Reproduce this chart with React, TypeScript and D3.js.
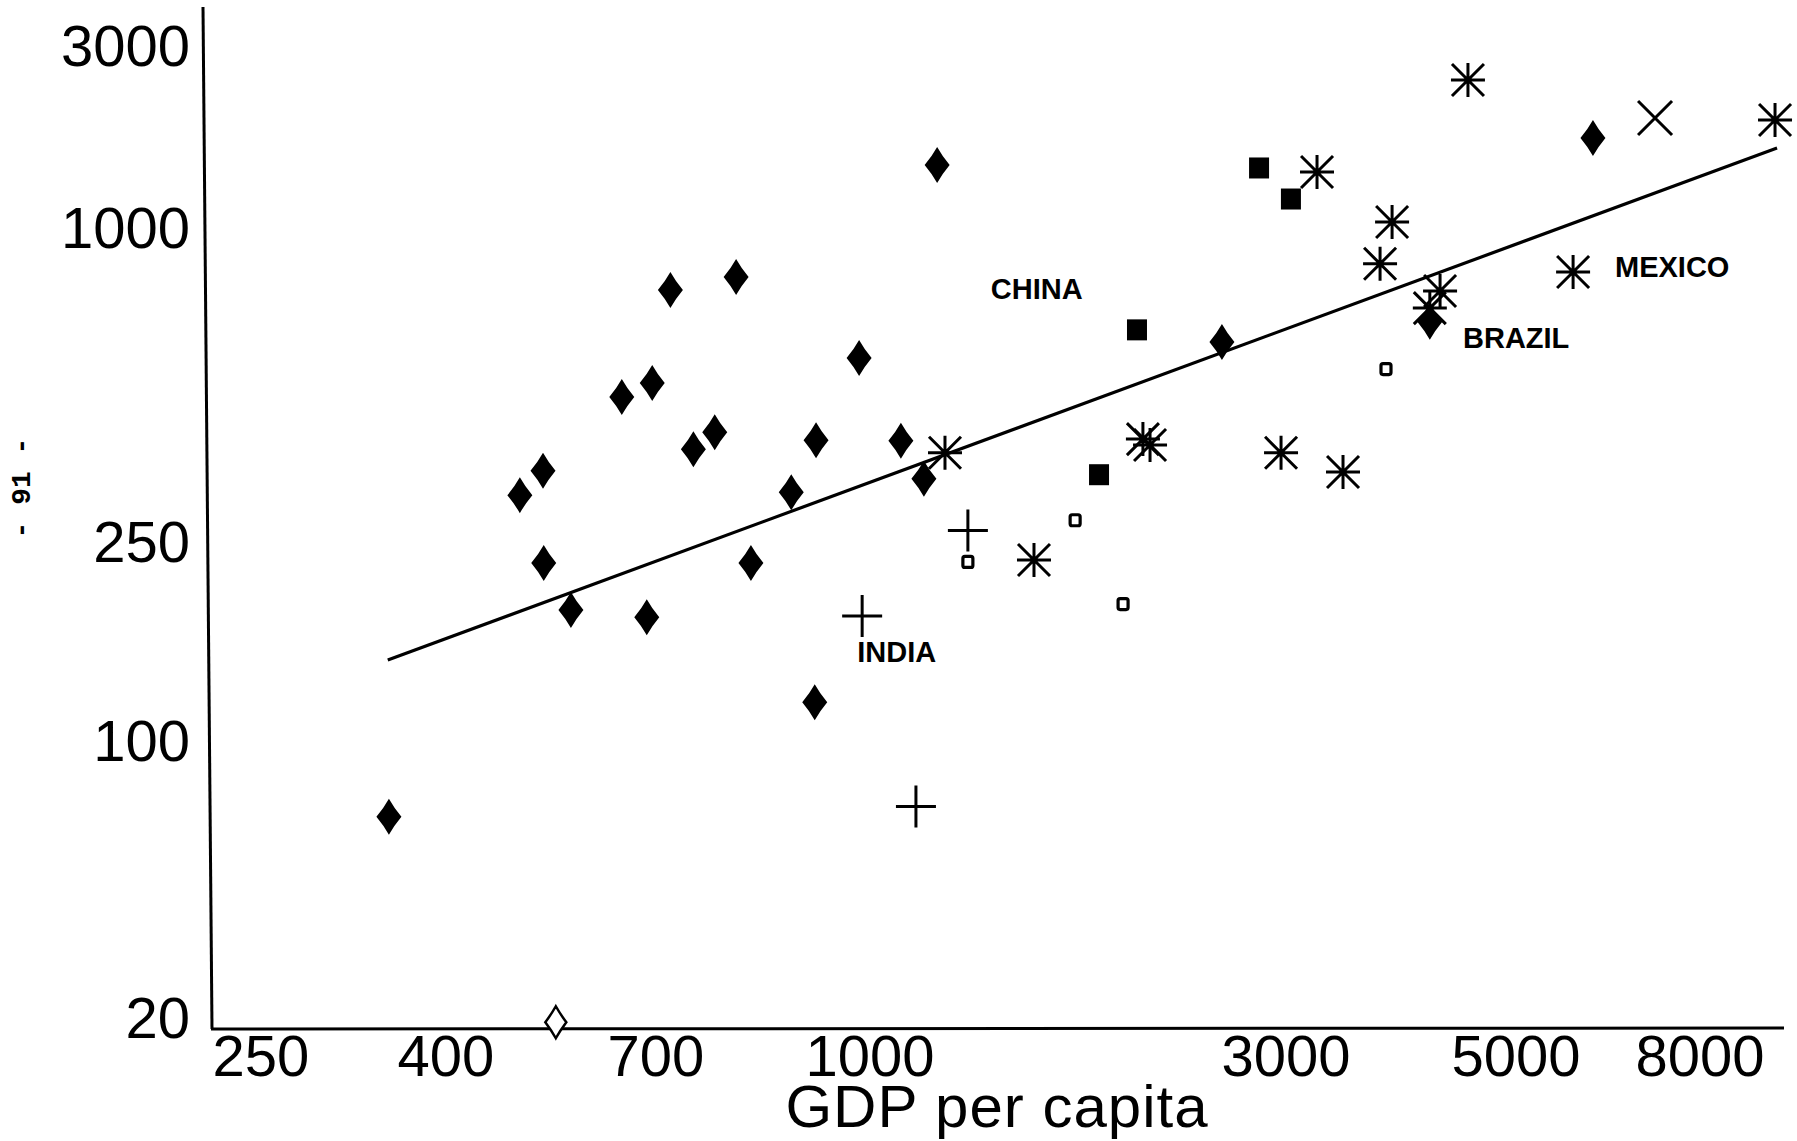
import * as d3 from 'd3';

const W = 1797;
const H = 1141;

// axis ticks as printed
const xTickValues = [250, 400, 700, 1000, 3000, 5000, 8000];
const yTickValues = [20, 100, 250, 1000, 3000];

// points: [GDP per capita, y value]
const diamonds: [number, number][] = [
  [1194, 1454], [717, 757], [800, 802], [639, 472], [693, 502], [982, 561],
  [745, 375], [772, 404], [914, 390], [1085, 389], [487, 306], [518, 341],
  [877, 310], [1153, 329], [519, 226], [558, 182], [683, 176], [820, 226],
  [912, 119], [346, 64], [2533, 602], [4129, 658], [6086, 1712],
];
const openDiamonds: [number, number][] = [[536, 19.4]];
const filledSquares: [number, number][] = [[2794, 1428], [3033, 1184], [2024, 635], [1831, 335]];
const smallSquares: [number, number][] = [[1295, 227], [1719, 274], [1951, 187], [3746, 534]];
const asterisks: [number, number][] = [
  [4494, 2428], [9690, 1908], [3214, 1394], [3797, 1031], [3697, 850], [4224, 754],
  [4129, 699], [5785, 820], [1219, 369], [2056, 392], [2095, 382], [2961, 369],
  [3405, 339], [1542, 229],
];
const crosses: [number, number][] = [[7132, 1931]];
const pluses: [number, number][] = [[1295, 262], [987, 177], [1129, 68]];

// fitted line end points
const fitLine: [number, number][] = [[345, 144.5], [9740, 1611]];

const countryNames = ['CHINA', 'INDIA', 'BRAZIL', 'MEXICO'];
const countryGdp = [1376, 979, 4445, 6439];
const countryVal = [728, 143, 586, 802];

const asteriskPath = 'M0,-17V17M-17,0H17M-16,-16L16,16M-16,16L16,-16';
const crossPath = 'M-17,-17L17,17M-17,17L17,-17';
const plusPath = 'M-20,0H20M0,-21V21';
// card-suit style diamond, slightly bowed sides
const diamondPath = 'M0,-18Q5,-9 12.5,0Q5,9 0,18Q-5,9 -12.5,0Q-5,-9 0,-18Z';
const openDiamondPath = 'M0,-16Q4.5,-8 10.5,0Q4.5,8 0,16Q-4.5,8 -10.5,0Q-4.5,-8 0,-16Z';

export default function App() {
  const x = d3.scaleLog().domain(xTickValues).range([261, 446, 656, 870, 1286, 1516, 1700]);
  const y = d3.scaleLog().domain(yTickValues).range([1017, 740, 541, 227, 45]);

  const font = '"Liberation Sans", Arial, sans-serif';
  const line = d3.line<[number, number]>().x(d => x(d[0])).y(d => y(d[1]));
  const tr = (d: [number, number]) => `translate(${x(d[0])},${y(d[1])})`;

  return (
    <svg
      width={W}
      height={H}
      style={{ position: 'absolute', left: 0, top: 0, background: '#fff' }}
    >
      {/* axes */}
      <line x1={203} y1={7} x2={212} y2={1029} stroke="#000" strokeWidth={3} />
      <line x1={211} y1={1029} x2={1784} y2={1028} stroke="#000" strokeWidth={3} />

      {yTickValues.map(v => (
        <text key={'y' + v} x={190} y={y(v)} dy="0.36em" textAnchor="end"
          fontFamily={font} fontSize={58} fill="#000">{v}</text>
      ))}
      {xTickValues.map(v => (
        <text key={'x' + v} x={x(v)} y={1076} textAnchor="middle"
          fontFamily={font} fontSize={58} fill="#000">{v}</text>
      ))}
      <text x={997} y={1127} textAnchor="middle" fontFamily={font} fontSize={60}
        letterSpacing={1} fill="#000">GDP per capita</text>

      <text transform="translate(30,488) rotate(-90)" textAnchor="middle"
        fontFamily='"Liberation Mono", monospace' fontSize={28} fontWeight="bold"
        fill="#000">- 91 -</text>

      {/* regression line */}
      <path d={line(fitLine) ?? ''} fill="none" stroke="#000" strokeWidth={3.2} />

      {diamonds.map((d, i) => (
        <path key={'d' + i} d={diamondPath} transform={tr(d)} fill="#000" />
      ))}
      {openDiamonds.map((d, i) => (
        <path key={'od' + i} d={openDiamondPath} transform={tr(d)} fill="#fff"
          stroke="#000" strokeWidth={2.5} />
      ))}
      {filledSquares.map((d, i) => (
        <rect key={'fs' + i} x={x(d[0]) - 10} y={y(d[1]) - 10.5} width={20} height={21} fill="#000" />
      ))}
      {smallSquares.map((d, i) => (
        <rect key={'ss' + i} x={x(d[0]) - 5} y={y(d[1]) - 5.5} width={10} height={11} rx={2}
          fill="#fff" stroke="#000" strokeWidth={3.2} />
      ))}
      {asterisks.map((d, i) => (
        <path key={'a' + i} d={asteriskPath} transform={tr(d)} fill="none" stroke="#000" strokeWidth={3} />
      ))}
      {crosses.map((d, i) => (
        <path key={'c' + i} d={crossPath} transform={tr(d)} fill="none" stroke="#000" strokeWidth={3} />
      ))}
      {pluses.map((d, i) => (
        <path key={'p' + i} d={plusPath} transform={tr(d)} fill="none" stroke="#000" strokeWidth={3} />
      ))}

      {countryNames.map((n, i) => (
        <text key={n} x={x(countryGdp[i])} y={y(countryVal[i])} fontFamily={font}
          fontSize={29} fontWeight="bold" fill="#000">{n}</text>
      ))}
    </svg>
  );
}
